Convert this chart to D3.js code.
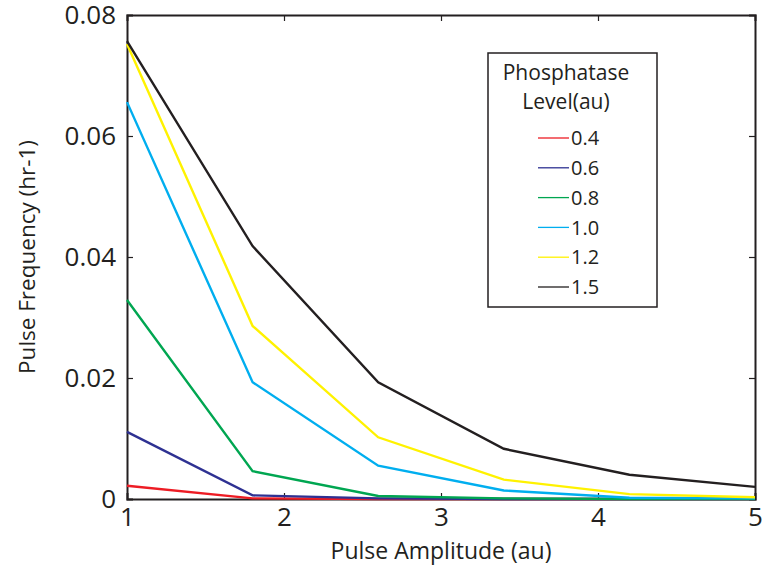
<!DOCTYPE html>
<html>
  <head>
    <script src="https://d3js.org/d3.v7.min.js"></script>
    <style>
      body { margin: 0; background: #fff; }
      text { font-family: "Open Sans", "Noto Sans", sans-serif; fill: #231f20; }
    </style>
  </head>
  <body>
    <svg id="chart" width="762" height="573"></svg>
    <script>
      // pulse amplitudes (au)
      const amplitudes = [1, 1.8, 2.6, 3.4, 4.2, 5];
      const levels = ["0.4", "0.6", "0.8", "1.0", "1.2", "1.5"];
      const colors = ["#ed1c24", "#2e3192", "#00a651", "#00aeef", "#fff200", "#231f20"];

      // pulse frequency (hr-1) per phosphatase level
      const freq04 = [0.0022, 0.0001, 0.0, 0.0, 0.0, 0.0];
      const freq06 = [0.0111, 0.0006, 0.0001, 0.0, 0.0, 0.0];
      const freq08 = [0.0329, 0.0046, 0.0005, 0.0001, 0.0, 0.0];
      const freq10 = [0.0656, 0.0193, 0.0055, 0.0014, 0.0002, 0.0001];
      const freq12 = [0.0752, 0.0286, 0.0102, 0.0032, 0.0008, 0.0003];
      const freq15 = [0.0757, 0.0418, 0.0193, 0.0083, 0.004, 0.002];
      const series = [freq04, freq06, freq08, freq10, freq12, freq15];

      const xTicks = [1, 2, 3, 4, 5];
      const yTicks = [0, 0.02, 0.04, 0.06, 0.08];

      var margin = { top: 15, right: 7, bottom: 74, left: 127 },
        width = 762 - margin.left - margin.right,
        height = 573 - margin.top - margin.bottom;

      var svg = d3.select("#chart")
        .append("g")
        .attr("transform", "translate(" + margin.left + "," + margin.top + ")");

      var x = d3.scaleLinear().domain([1, 5]).range([0, width]);
      var y = d3.scaleLinear().domain([0, 0.08]).range([height, 0]);

      var yFmt = (d) => (d === 0 ? "0" : d3.format(".2f")(d));

      // bottom axis with labels, ticks pointing inward
      var xAxis = svg.append("g")
        .attr("transform", "translate(0," + height + ")")
        .call(d3.axisBottom(x).tickValues(xTicks).tickSize(-6).tickPadding(9).tickFormat(d3.format("d")));
      // top mirror
      var xTop = svg.append("g")
        .call(d3.axisTop(x).tickValues(xTicks).tickSize(-6).tickFormat(""));

      var yAxis = svg.append("g")
        .call(d3.axisLeft(y).tickValues(yTicks).tickSize(-6).tickPadding(11).tickFormat(yFmt));
      var yRight = svg.append("g")
        .attr("transform", "translate(" + width + ",0)")
        .call(d3.axisRight(y).tickValues(yTicks).tickSize(-6).tickFormat(""));

      [xAxis, xTop, yAxis, yRight].forEach(function (g) {
        g.selectAll(".domain").attr("stroke", "#231f20").attr("stroke-width", 2);
        g.selectAll(".tick line").attr("stroke", "#231f20").attr("stroke-width", 1.2);
        g.selectAll(".tick text").attr("font-size", 26).attr("fill", "#231f20");
      });
      // hide end ticks that sit on the frame
      yAxis.selectAll(".tick line").filter((d) => d === 0 || d === 0.08).remove();
      yRight.selectAll(".tick line").filter((d) => d === 0 || d === 0.08).remove();
      xAxis.selectAll(".tick line").filter((d) => d === 1 || d === 5).remove();
      xTop.selectAll(".tick line").filter((d) => d === 1 || d === 5).remove();

      var line = d3.line()
        .x((d, i) => x(amplitudes[i]))
        .y((d) => y(d));

      series.forEach(function (s, i) {
        svg.append("path")
          .datum(s)
          .attr("fill", "none")
          .attr("stroke", colors[i])
          .attr("stroke-width", 2.4)
          .attr("d", line);
      });

      // axis titles
      svg.append("text")
        .attr("x", width / 2)
        .attr("y", height + 60)
        .attr("text-anchor", "middle")
        .attr("font-size", 23)
        .text("Pulse Amplitude (au)");

      svg.append("text")
        .attr("transform", "rotate(-90)")
        .attr("x", -height / 2)
        .attr("y", -92)
        .attr("text-anchor", "middle")
        .attr("font-size", 22.5)
        .text("Pulse Frequency (hr-1)");

      // legend
      var legend = d3.select("#chart").append("g").attr("transform", "translate(488,53)");
      legend.append("rect")
        .attr("width", 169)
        .attr("height", 254)
        .attr("fill", "#fff")
        .attr("stroke", "#231f20")
        .attr("stroke-width", 1.5);
      legend.append("text").attr("x", 78).attr("y", 27).attr("text-anchor", "middle")
        .attr("font-size", 21).text("Phosphatase");
      legend.append("text").attr("x", 78).attr("y", 56).attr("text-anchor", "middle")
        .attr("font-size", 21).text("Level(au)");

      var entry = legend.selectAll(".entry")
        .data(levels)
        .enter()
        .append("g")
        .attr("transform", (d, i) => "translate(0," + (85 + i * 29.8) + ")");
      entry.append("line")
        .attr("x1", 50).attr("x2", 81)
        .attr("stroke", (d, i) => colors[i])
        .attr("stroke-width", 1.3);
      entry.append("text")
        .attr("x", 83).attr("dy", "0.36em")
        .attr("font-size", 20)
        .text((d) => d);
    </script>
  </body>
</html>
